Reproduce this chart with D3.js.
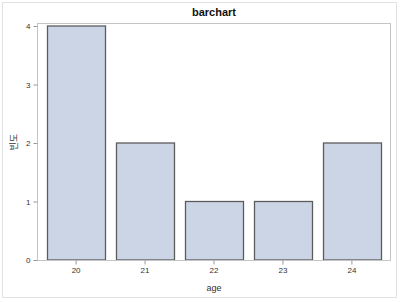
<!DOCTYPE html>
<html>
<head>
<meta charset="utf-8">
<script src="https://cdnjs.cloudflare.com/ajax/libs/d3/7.8.5/d3.min.js"></script>
<style>
body { margin: 0; background: #fff; }
text { font-family: "Liberation Sans", Arial, sans-serif; }
</style>
</head>
<body>
<div id="chart"></div>
<script>
var ages = ["20", "21", "22", "23", "24"]
var counts = [4, 2, 1, 1, 2]
var yTicks = [0, 1, 2, 3, 4]

var svg = d3.select("#chart").append("svg").attr("width", 400).attr("height", 302)

// outer frame
svg.append("rect")
    .attr("x", 2.5).attr("y", 2.5)
    .attr("width", 394).attr("height", 295)
    .attr("fill", "#fff")
    .attr("stroke", "#e2e2e6")

var plotL = 37.5, plotR = 390.5, plotT = 23.5, plotB = 260.5

var x = d3.scaleBand()
    .domain(ages)
    .range([plotL, plotR])
    .paddingInner(0.16)
    .paddingOuter(0.14)

var y = d3.scaleLinear()
    .domain([0, 4])
    .range([plotB - 0.5, 26])

// bars
svg.selectAll(".bar")
    .data(ages)
    .enter().append("rect")
    .attr("class", "bar")
    .attr("x", function(d) { return Math.round(x(d)) + 0.5 })
    .attr("width", Math.round(x.bandwidth()))
    .attr("y", function(d, i) { return y(counts[i]) })
    .attr("height", function(d, i) { return y(0) - y(counts[i]) })
    .attr("fill", "#cbd5e5")
    .attr("stroke", "#5c5c5c")
    .attr("stroke-width", 1.3)

// plot frame
svg.append("rect")
    .attr("x", plotL).attr("y", plotT)
    .attr("width", plotR - plotL).attr("height", plotB - plotT)
    .attr("fill", "none")
    .attr("stroke", "#c4c4c4")

// y axis
var yAxis = svg.append("g")
    .attr("transform", "translate(" + plotL + ",0)")
    .call(d3.axisLeft(y).tickValues(yTicks).tickFormat(d3.format("d")).tickSize(4).tickPadding(3))
yAxis.select(".domain").remove()
yAxis.selectAll(".tick line").attr("stroke", "#999")
yAxis.selectAll("text").attr("fill", "#333").style("font-size", "8px")

// x axis
var xAxis = svg.append("g")
    .attr("transform", "translate(0," + plotB + ")")
    .call(d3.axisBottom(x).tickSize(4).tickPadding(3))
xAxis.select(".domain").remove()
xAxis.selectAll(".tick line").attr("stroke", "#999")
xAxis.selectAll("text").attr("fill", "#333").style("font-size", "8px")

// title
svg.append("text")
    .attr("x", (plotL + plotR) / 2)
    .attr("y", 16)
    .attr("text-anchor", "middle")
    .style("font-size", "11px")
    .style("font-weight", "bold")
    .attr("fill", "#111")
    .text("barchart")

// axis labels
svg.append("text")
    .attr("x", (plotL + plotR) / 2)
    .attr("y", 291)
    .attr("text-anchor", "middle")
    .style("font-size", "9px")
    .attr("fill", "#333")
    .text("age")

svg.append("text")
    .attr("transform", "translate(16.5," + ((plotT + plotB) / 2) + ") rotate(-90)")
    .attr("text-anchor", "middle")
    .style("font-family", "'Noto Sans CJK KR', sans-serif")
    .style("font-size", "9px")
    .attr("fill", "#333")
    .text("빈도")
</script>
</body>
</html>
